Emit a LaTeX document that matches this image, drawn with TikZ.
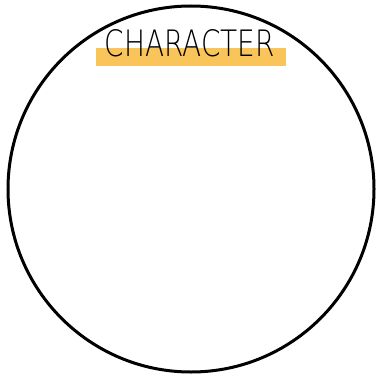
\documentclass[tikz,border=0pt]{standalone}
\usepackage{fontspec}
\setsansfont{DejaVu Sans ExtraLight}
\usepackage{graphicx}
\usetikzlibrary{positioning}
\definecolor{markcolor}{HTML}{F9C55B}

\tikzset{
    ring/.style={draw=black, line width=3pt},
    highlight/.style={fill=markcolor, inner sep=0pt, minimum width=190pt, minimum height=18pt},
    titletext/.style={inner sep=0pt, font=\sffamily}
}

\begin{document}
\begin{tikzpicture}[x=1pt, y=-1pt]
    \useasboundingbox (0,0) rectangle (377,377);
    % Outline
    \node[ring, circle, minimum size=366pt, inner sep=0pt] (circ) at (191,189) {};
    % Highlight bar under the title
    \node[highlight] (mark) at (191,57) {};
    % Title
    \node[titletext] (title) at (190,43.5) {\resizebox{170pt}{27pt}{CHARACTER}};
\end{tikzpicture}
\end{document}
